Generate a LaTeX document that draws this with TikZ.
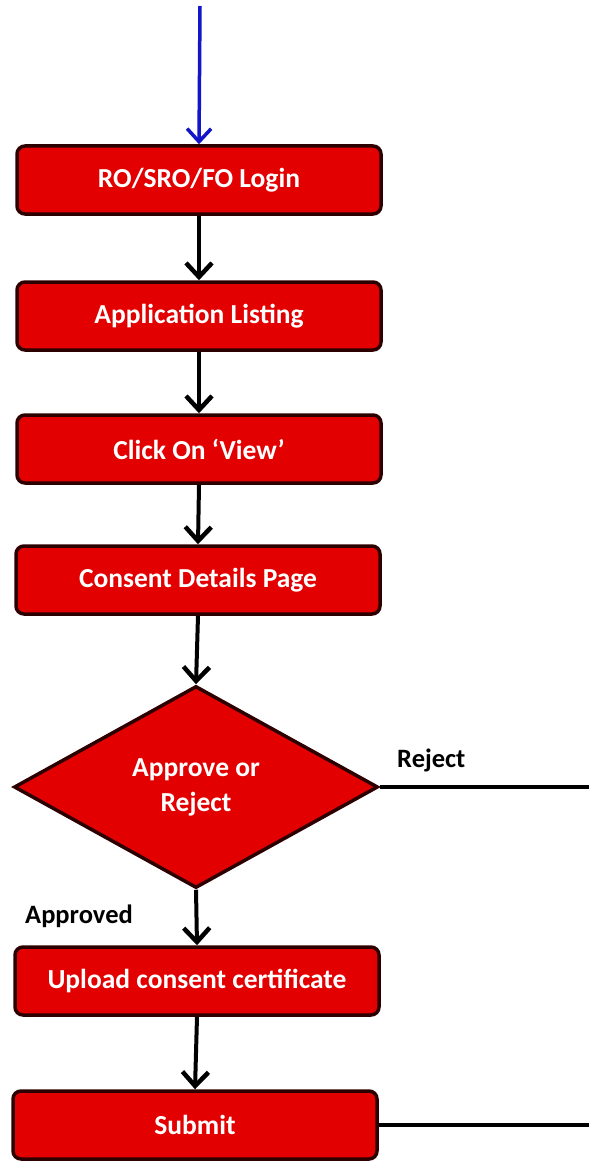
\documentclass[tikz,border=0pt]{standalone}
\usepackage{fontspec}
\setmainfont{Carlito}
\usetikzlibrary{shapes.geometric,arrows.meta}
\definecolor{boxred}{RGB}{226,0,0}
\definecolor{boxedge}{RGB}{45,0,0}
\definecolor{startblue}{RGB}{20,20,200}
\tikzset{
  stepbox/.style={draw=boxedge, line width=3.5pt, fill=boxred, rounded corners=8pt,
    minimum width=364pt, minimum height=68pt, inner sep=0pt,
    font=\fontsize{27.5}{33}\selectfont\bfseries, text=white},
  decision/.style={diamond, draw=boxedge, line width=3.5pt, fill=boxred,
    minimum width=364pt, minimum height=202pt, inner sep=0pt, align=center,
    font=\fontsize{27.5}{35}\selectfont\bfseries, text=white},
  flow/.style={line width=4pt, draw=black, -{Straight Barb[length=14pt,width=26pt,line width=4.5pt]}},
  plainline/.style={line width=4.5pt, draw=black},
  lbl/.style={font=\fontsize{26.5}{30}\selectfont\bfseries, text=black, inner sep=0pt}
}
\begin{document}
\begin{tikzpicture}[x=1pt,y=-1pt]
\useasboundingbox (0,0) rectangle (589,1161);
\coordinate (start) at (200,6);
\node[stepbox] (b1) at (199,180) {RO/SRO/FO Login};
\node[stepbox] (b2) at (199,316) {Application Listing};
\node[stepbox] (b3) at (199,449) {Click On ‘View’};
\node[stepbox] (b4) at (198,580) {Consent Details Page};
\node[decision] (d) at (196,787) {Approve or\\Reject};
\node[stepbox] (b5) at (197,981) {Upload consent certificate};
\node[stepbox] (b6) at (195,1125) {Submit};
\coordinate (rejend) at (589,787);
\coordinate (subend) at (589,1125);
\draw[line width=3.5pt, startblue, -{Straight Barb[length=13pt,width=24pt,line width=3.5pt]}] (start) -- (b1.north);
\draw[flow] (b1.south) -- (b2.north);
\draw[flow] (b2.south) -- (b3.north);
\draw[flow] (b3.south) -- (b4.north);
\draw[flow] (b4.south) -- (d.north);
\draw[flow] (d.south) -- (b5.north);
\draw[flow] (b5.south) -- (b6.north);
\draw[plainline] (d.east) -- (rejend);
\draw[plainline] (b6.east) -- (subend);
\node[lbl, anchor=west] (rej) at (397,760) {Reject};
\node[lbl, anchor=west] (appr) at (25,916) {Approved};
\end{tikzpicture}
\end{document}
